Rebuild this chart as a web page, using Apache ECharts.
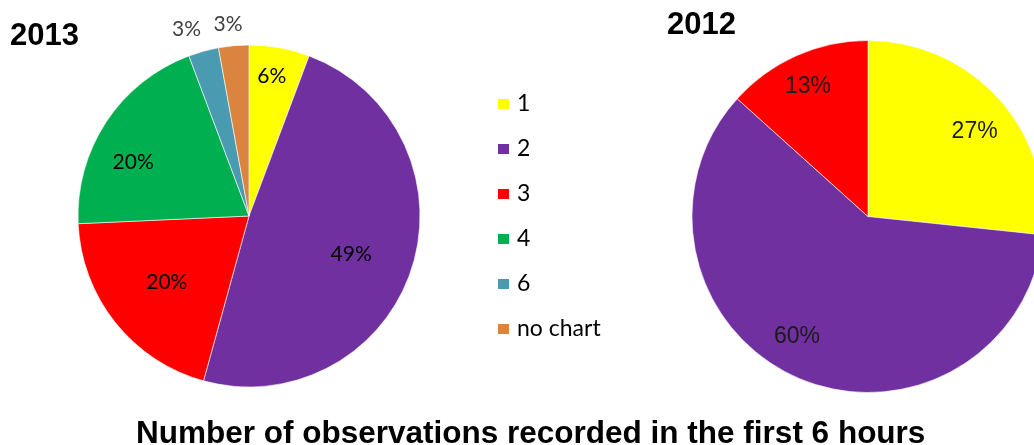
<!DOCTYPE html>
<html>
<head>
<meta charset="utf-8">
<script src="https://cdn.jsdelivr.net/npm/echarts@6/dist/echarts.min.js"></script>
<style>
  html, body { margin: 0; padding: 0; background: #fff; }
  #chart { width: 1034px; height: 445px; }
</style>
</head>
<body>
<div id="chart"></div>
<script>
// Observation counts per category (the pies show their shares)
const categories = ['1', '2', '3', '4', '6', 'no chart'];
const counts2013 = [2, 17, 7, 7, 1, 1];
const categories2012 = ['1', '2', '3'];
const counts2012 = [4, 9, 2];

const sliceColors = ['#FFFF00', '#7030A0', '#FF0000', '#00B050', '#4A9AB2', '#DA843F'];

// Label nudges away from the mid-radius spot, per slice
const labelShift2013 = [[7, -53], [18, 11], [-13, 11], [-42, -5], [-39, -101], [-13, -104]];
const labelShift2012 = [[39, -24], [-34, 37], [-23, -47]];
const outsideLabel2013 = [false, false, false, false, true, true];

const pct = p => Math.round(p.percent) + '%';

function items(names, values, shifts, outside) {
  return names.map((n, i) => ({
    name: n,
    value: values[i],
    itemStyle: { color: sliceColors[i] },
    label: {
      offset: shifts[i],
      color: outside && outside[i] ? '#404040' : undefined
    }
  }));
}

const chart = echarts.init(document.getElementById('chart'), null, { renderer: 'canvas' });

const titleFont = { fontFamily: 'Liberation Sans', fontWeight: 'bold', fontSize: 31, color: '#000' };

chart.setOption({
  animation: false,
  backgroundColor: '#fff',
  title: [
    { text: '2013', left: 10, top: 21, padding: 0, textStyle: titleFont },
    { text: '2012', left: 667, top: 10, padding: 0, textStyle: titleFont },
    { text: 'Number of observations recorded in the first 6 hours', left: 136, top: 418, padding: 0,
      textStyle: Object.assign({}, titleFont, { fontSize: 31.5 }) }
  ],
  legend: {
    orient: 'vertical',
    left: 496,
    top: 92,
    padding: 0,
    icon: 'rect',
    itemWidth: 13,
    itemHeight: 12,
    itemGap: 21,
    data: categories,
    textStyle: { fontFamily: 'Lato', fontSize: 23, lineHeight: 24, color: '#000', padding: [0, 0, 0, 2] }
  },
  series: [
    {
      name: '2013',
      type: 'pie',
      center: [249, 216],
      radius: [0, 171],
      startAngle: 90,
      clockwise: true,
      avoidLabelOverlap: false,
      minShowLabelAngle: 0,
      itemStyle: { borderColor: '#ffffff', borderWidth: 0.6 },
      label: {
        show: true,
        position: 'inside',
        formatter: pct,
        fontFamily: 'Lato',
        fontSize: 21,
        color: '#000'
      },
      labelLine: { show: false },
      emphasis: { disabled: true },
      data: items(categories, counts2013, labelShift2013, outsideLabel2013)
    },
    {
      name: '2012',
      type: 'pie',
      center: [868, 216.5],
      radius: [0, 176],
      startAngle: 90,
      clockwise: true,
      avoidLabelOverlap: false,
      itemStyle: { borderColor: '#ffffff', borderWidth: 0.6 },
      label: {
        show: true,
        position: 'inside',
        formatter: pct,
        fontFamily: 'Liberation Sans',
        fontSize: 23,
        color: '#1a1a1a'
      },
      labelLine: { show: false },
      emphasis: { disabled: true },
      data: items(categories2012, counts2012, labelShift2012, null)
    }
  ]
});
</script>
</body>
</html>
